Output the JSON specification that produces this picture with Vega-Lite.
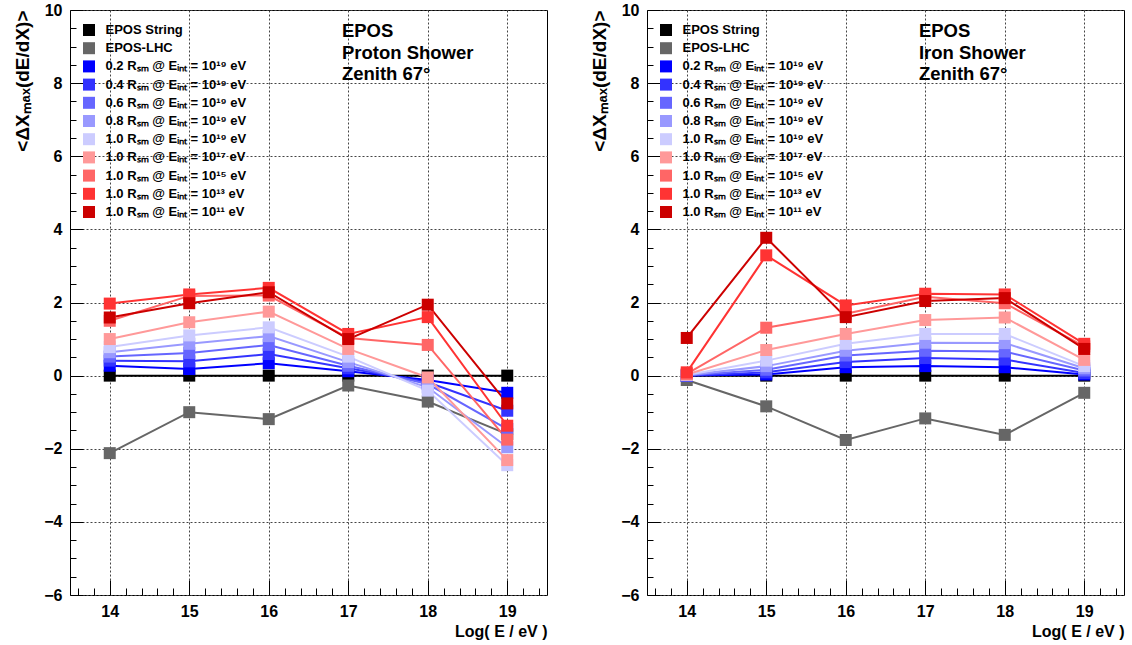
{
  "$schema": "https://vega.github.io/schema/vega-lite/v6.json",
  "padding": {"left": 13, "top": 1, "right": 4, "bottom": 4},
  "background": "white",
  "datasets": {
    "series": [
      {"k": "s1", "name": "EPOS String"},
      {"k": "s2", "name": "EPOS-LHC"},
      {"k": "s3", "name": "0.2 Rₛₘ @ Eᵢₙₜ = 10¹⁹ eV"},
      {"k": "s4", "name": "0.4 Rₛₘ @ Eᵢₙₜ = 10¹⁹ eV"},
      {"k": "s5", "name": "0.6 Rₛₘ @ Eᵢₙₜ = 10¹⁹ eV"},
      {"k": "s6", "name": "0.8 Rₛₘ @ Eᵢₙₜ = 10¹⁹ eV"},
      {"k": "s7", "name": "1.0 Rₛₘ @ Eᵢₙₜ = 10¹⁹ eV"},
      {"k": "s8", "name": "1.0 Rₛₘ @ Eᵢₙₜ = 10¹⁷ eV"},
      {"k": "s9", "name": "1.0 Rₛₘ @ Eᵢₙₜ = 10¹⁵ eV"},
      {"k": "s10", "name": "1.0 Rₛₘ @ Eᵢₙₜ = 10¹³ eV"},
      {"k": "s11", "name": "1.0 Rₛₘ @ Eᵢₙₜ = 10¹¹ eV"}
    ],
    "proton": [
      {"x": 14, "s1": 0, "s2": -2.12, "s3": 0.27, "s4": 0.41, "s5": 0.52, "s6": 0.64, "s7": 0.78, "s8": 1.0, "s9": 1.5, "s10": 1.97, "s11": 1.59},
      {"x": 15, "s1": 0, "s2": -1.0, "s3": 0.18, "s4": 0.39, "s5": 0.62, "s6": 0.87, "s7": 1.1, "s8": 1.46, "s9": 2.18, "s10": 2.22, "s11": 1.98},
      {"x": 16, "s1": 0, "s2": -1.19, "s3": 0.34, "s4": 0.59, "s5": 0.84, "s6": 1.08, "s7": 1.32, "s8": 1.75, "s9": 2.19, "s10": 2.4, "s11": 2.28},
      {"x": 17, "s1": 0, "s2": -0.27, "s3": 0.12, "s4": 0.2, "s5": 0.27, "s6": 0.37, "s7": 0.52, "s8": 0.73, "s9": 1.03, "s10": 1.14, "s11": 1.0},
      {"x": 18, "s1": 0, "s2": -0.71, "s3": -0.12, "s4": -0.18, "s5": -0.23, "s6": -0.32, "s7": -0.41, "s8": -0.05, "s9": 0.84, "s10": 1.6, "s11": 1.94},
      {"x": 19, "s1": 0, "s2": -1.6, "s3": -0.47, "s4": -0.96, "s5": -1.46, "s6": -1.96, "s7": -2.45, "s8": -2.31, "s9": -1.75, "s10": -1.37, "s11": -0.76}
    ],
    "iron": [
      {"x": 14, "s1": 0, "s2": -0.12, "s3": 0.0, "s4": 0.0, "s5": 0.01, "s6": 0.01, "s7": 0.02, "s8": 0.03, "s9": 0.05, "s10": 0.09, "s11": 1.03},
      {"x": 15, "s1": 0, "s2": -0.84, "s3": 0.03, "s4": 0.09, "s5": 0.16, "s6": 0.26, "s7": 0.41, "s8": 0.7, "s9": 1.31, "s10": 3.29, "s11": 3.77},
      {"x": 16, "s1": 0, "s2": -1.76, "s3": 0.23, "s4": 0.37, "s5": 0.55, "s6": 0.68, "s7": 0.87, "s8": 1.14, "s9": 1.69, "s10": 1.92, "s11": 1.6},
      {"x": 17, "s1": 0, "s2": -1.17, "s3": 0.26, "s4": 0.48, "s5": 0.68, "s6": 0.9, "s7": 1.14, "s8": 1.52, "s9": 2.16, "s10": 2.24, "s11": 2.04},
      {"x": 18, "s1": 0, "s2": -1.62, "s3": 0.23, "s4": 0.44, "s5": 0.66, "s6": 0.89, "s7": 1.14, "s8": 1.59, "s9": 1.98, "s10": 2.22, "s11": 2.12},
      {"x": 19, "s1": 0, "s2": -0.47, "s3": 0.03, "s4": 0.07, "s5": 0.14, "s6": 0.2, "s7": 0.26, "s8": 0.43, "s9": 0.8, "s10": 0.87, "s11": 0.73}
    ]
  },
  "resolve": {"scale": {"color": "independent"}, "legend": {"color": "independent"}},
  "spacing": 42,
  "hconcat": [
    {
      "width": 477,
      "height": 585,
      "data": {"name": "proton"},
      "transform": [
        {"fold": ["s1", "s2", "s3", "s4", "s5", "s6", "s7", "s8", "s9", "s10", "s11"], "as": ["key", "value"]},
        {"lookup": "key", "from": {"data": {"name": "series"}, "key": "k", "fields": ["name"]}}
      ],
      "resolve": {"axis": {"x": "independent", "y": "independent"}},
      "layer": [
        {
          "mark": {"type": "line", "strokeWidth": 2, "point": {"shape": "square", "filled": true, "size": 144, "opacity": 1}},
          "encoding": {
            "x": {"field": "x", "type": "quantitative", "scale": {"domain": [13.5, 19.5], "nice": false, "zero": false},
              "axis": {"orient": "bottom", "values": [14, 15, 16, 17, 18, 19], "format": "d", "tickSize": -15, "labelPadding": 23, "labelFontSize": 16, "labelFontWeight": "bold", "labelFlush": false, "grid": true, "gridDash": [2, 2], "gridColor": "#444", "title": "Log( E / eV )", "titleAnchor": "end", "titleFontSize": 16, "titleFontWeight": "bold", "titlePadding": 4}},
            "y": {"field": "value", "type": "quantitative", "scale": {"domain": [-6, 10], "nice": false, "zero": false},
              "axis": {"orient": "left", "values": [-6, -4, -2, 0, 2, 4, 6, 8, 10], "tickSize": -13, "labelPadding": 21, "labelFontSize": 16, "labelFontWeight": "bold", "labelFlush": false, "grid": true, "gridDash": [2, 2], "gridColor": "#444", "title": "<ΔXₘₐₓ(dE/dX)>", "titleAnchor": "end", "titleFontSize": 19, "titleFontWeight": "bold", "titlePadding": 11}},
            "color": {"field": "name", "type": "nominal",
              "scale": {"domain": ["EPOS String", "EPOS-LHC", "0.2 Rₛₘ @ Eᵢₙₜ = 10¹⁹ eV", "0.4 Rₛₘ @ Eᵢₙₜ = 10¹⁹ eV", "0.6 Rₛₘ @ Eᵢₙₜ = 10¹⁹ eV", "0.8 Rₛₘ @ Eᵢₙₜ = 10¹⁹ eV", "1.0 Rₛₘ @ Eᵢₙₜ = 10¹⁹ eV", "1.0 Rₛₘ @ Eᵢₙₜ = 10¹⁷ eV", "1.0 Rₛₘ @ Eᵢₙₜ = 10¹⁵ eV", "1.0 Rₛₘ @ Eᵢₙₜ = 10¹³ eV", "1.0 Rₛₘ @ Eᵢₙₜ = 10¹¹ eV"],
                "range": ["#000000", "#666666", "#0000ff", "#3333ff", "#6666ff", "#9999ff", "#ccccff", "#ff9999", "#ff6666", "#ff3333", "#cc0000"]},
              "legend": {"orient": "none", "legendX": 12.5, "legendY": 13.5, "title": null, "labelFontSize": 13, "labelFontWeight": "bold", "labelFont": "Liberation Sans", "labelColor": "black", "symbolSize": 144, "symbolType": "square", "symbolStrokeWidth": 0, "symbolOpacity": 1, "rowPadding": 4.2, "labelOffset": 10, "padding": 0, "labelLimit": 400}}
          }
        },
        {
          "data": {"values": [{}]},
          "mark": {"type": "text", "align": "left", "baseline": "top", "fontSize": 18.5, "fontWeight": "bold", "font": "Liberation Sans", "lineHeight": 21.5, "color": "black", "text": ["EPOS", "Proton Shower", "Zenith 67°"]},
          "encoding": {
            "x": {"datum": 16.92, "type": "quantitative", "axis": {"orient": "bottom", "values": [13.6, 13.8, 14.2, 14.4, 14.6, 14.8, 15.2, 15.4, 15.6, 15.8, 16.2, 16.4, 16.6, 16.8, 17.2, 17.4, 17.6, 17.8, 18.2, 18.4, 18.6, 18.8, 19.2, 19.4], "tickSize": -7, "labels": false, "grid": false, "title": null}},
            "y": {"datum": 9.67, "type": "quantitative", "axis": {"orient": "left", "values": [-5.5, -5, -4.5, -3.5, -3, -2.5, -1.5, -1, -0.5, 0.5, 1, 1.5, 2.5, 3, 3.5, 4.5, 5, 5.5, 6.5, 7, 7.5, 8.5, 9, 9.5], "tickSize": -6, "labels": false, "grid": false, "title": null}}
          }
        }
      ]
    },
    {
      "width": 477,
      "height": 585,
      "data": {"name": "iron"},
      "transform": [
        {"fold": ["s1", "s2", "s3", "s4", "s5", "s6", "s7", "s8", "s9", "s10", "s11"], "as": ["key", "value"]},
        {"lookup": "key", "from": {"data": {"name": "series"}, "key": "k", "fields": ["name"]}}
      ],
      "resolve": {"axis": {"x": "independent", "y": "independent"}},
      "layer": [
        {
          "mark": {"type": "line", "strokeWidth": 2, "point": {"shape": "square", "filled": true, "size": 144, "opacity": 1}},
          "encoding": {
            "x": {"field": "x", "type": "quantitative", "scale": {"domain": [13.5, 19.5], "nice": false, "zero": false},
              "axis": {"orient": "bottom", "values": [14, 15, 16, 17, 18, 19], "format": "d", "tickSize": -15, "labelPadding": 23, "labelFontSize": 16, "labelFontWeight": "bold", "labelFlush": false, "grid": true, "gridDash": [2, 2], "gridColor": "#444", "title": "Log( E / eV )", "titleAnchor": "end", "titleFontSize": 16, "titleFontWeight": "bold", "titlePadding": 4}},
            "y": {"field": "value", "type": "quantitative", "scale": {"domain": [-6, 10], "nice": false, "zero": false},
              "axis": {"orient": "left", "values": [-6, -4, -2, 0, 2, 4, 6, 8, 10], "tickSize": -13, "labelPadding": 21, "labelFontSize": 16, "labelFontWeight": "bold", "labelFlush": false, "grid": true, "gridDash": [2, 2], "gridColor": "#444", "title": "<ΔXₘₐₓ(dE/dX)>", "titleAnchor": "end", "titleFontSize": 19, "titleFontWeight": "bold", "titlePadding": 11}},
            "color": {"field": "name", "type": "nominal",
              "scale": {"domain": ["EPOS String", "EPOS-LHC", "0.2 Rₛₘ @ Eᵢₙₜ = 10¹⁹ eV", "0.4 Rₛₘ @ Eᵢₙₜ = 10¹⁹ eV", "0.6 Rₛₘ @ Eᵢₙₜ = 10¹⁹ eV", "0.8 Rₛₘ @ Eᵢₙₜ = 10¹⁹ eV", "1.0 Rₛₘ @ Eᵢₙₜ = 10¹⁹ eV", "1.0 Rₛₘ @ Eᵢₙₜ = 10¹⁷ eV", "1.0 Rₛₘ @ Eᵢₙₜ = 10¹⁵ eV", "1.0 Rₛₘ @ Eᵢₙₜ = 10¹³ eV", "1.0 Rₛₘ @ Eᵢₙₜ = 10¹¹ eV"],
                "range": ["#000000", "#666666", "#0000ff", "#3333ff", "#6666ff", "#9999ff", "#ccccff", "#ff9999", "#ff6666", "#ff3333", "#cc0000"]},
              "legend": {"orient": "none", "legendX": 12.5, "legendY": 13.5, "title": null, "labelFontSize": 13, "labelFontWeight": "bold", "labelFont": "Liberation Sans", "labelColor": "black", "symbolSize": 144, "symbolType": "square", "symbolStrokeWidth": 0, "symbolOpacity": 1, "rowPadding": 4.2, "labelOffset": 10, "padding": 0, "labelLimit": 400}}
          }
        },
        {
          "data": {"values": [{}]},
          "mark": {"type": "text", "align": "left", "baseline": "top", "fontSize": 18.5, "fontWeight": "bold", "font": "Liberation Sans", "lineHeight": 21.5, "color": "black", "text": ["EPOS", "Iron Shower", "Zenith 67°"]},
          "encoding": {
            "x": {"datum": 16.92, "type": "quantitative", "axis": {"orient": "bottom", "values": [13.6, 13.8, 14.2, 14.4, 14.6, 14.8, 15.2, 15.4, 15.6, 15.8, 16.2, 16.4, 16.6, 16.8, 17.2, 17.4, 17.6, 17.8, 18.2, 18.4, 18.6, 18.8, 19.2, 19.4], "tickSize": -7, "labels": false, "grid": false, "title": null}},
            "y": {"datum": 9.67, "type": "quantitative", "axis": {"orient": "left", "values": [-5.5, -5, -4.5, -3.5, -3, -2.5, -1.5, -1, -0.5, 0.5, 1, 1.5, 2.5, 3, 3.5, 4.5, 5, 5.5, 6.5, 7, 7.5, 8.5, 9, 9.5], "tickSize": -6, "labels": false, "grid": false, "title": null}}
          }
        }
      ]
    }
  ],
  "config": {
    "font": "Liberation Sans",
    "view": {"stroke": "black", "strokeWidth": 1},
    "axis": {"labelColor": "black", "titleColor": "black", "tickColor": "black", "domain": false, "labelFont": "Liberation Sans", "titleFont": "Liberation Sans"}
  }
}
